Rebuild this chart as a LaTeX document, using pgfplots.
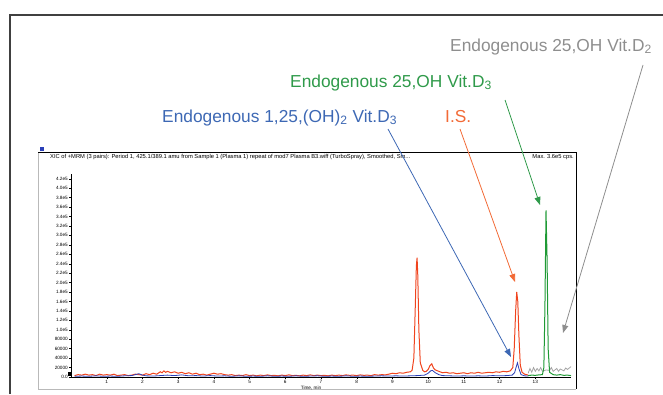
\documentclass[border=0pt]{standalone}
\usepackage{pgfplots}
\pgfplotsset{compat=1.18}
\usepackage{fontspec}
\setmainfont{Liberation Sans}
\usetikzlibrary{arrows.meta}
\definecolor{txtblue}{HTML}{3D68B4}
\definecolor{txtorange}{HTML}{F26A36}
\definecolor{txtgreen}{HTML}{2F9A4A}
\definecolor{txtgray}{HTML}{8E8E8E}
\definecolor{tred}{HTML}{F0441E}
\definecolor{tblue}{HTML}{2A3FB8}
\definecolor{tgreen}{HTML}{1F9A35}
\definecolor{tgray}{HTML}{A4A4A4}
\begin{document}
\begin{tikzpicture}[x=1bp,y=1bp]
\path[use as bounding box] (0,0) rectangle (663,394);
% outer frame
\draw[line width=1.1bp, black!75] (10,0) -- (10,379) -- (663,379);
% inner frame
\draw[gray!55, line width=0.6bp] (38,242) -- (38,5) -- (576,5);
\draw[black, line width=0.9bp] (38,242) -- (576,242) -- (576,5);
\fill[tblue] (40,243) rectangle (44,247);
\node[anchor=base west, inner sep=0, font=\fontsize{5.8}{7}\selectfont] at (50,236) {XIC of +MRM (3 pairs): Period 1, 425.1/389.1 amu from Sample 1 (Plasma 1) repeat of mod7 Plasma B3.wiff (TurboSpray), Smoothed, Sm...};
\node[anchor=base east, inner sep=0, font=\fontsize{5.8}{7}\selectfont] at (574,236) {Max. 3.6e5 cps.};
\begin{axis}[
  at={(71bp,17bp)}, anchor=south west,
  scale only axis, width=500bp, height=203bp,
  xmin=0, xmax=14, ymin=0, ymax=430000,
  axis x line=bottom, axis y line=left,
  axis line style={-, line width=0.6bp, black},
  tick align=outside, major tick length=2bp, minor tick length=1.2bp,
  tick style={line width=0.4bp, black},
  xtick={1,2,3,4,5,6,7,8,9,10,11,12,13}, minor xtick={0.5,1.5,2.5,3.5,4.5,5.5,6.5,7.5,8.5,9.5,10.5,11.5,12.5,13.5},
  ytick={0,20000,40000,60000,80000,100000,120000,140000,160000,180000,200000,220000,240000,260000,280000,300000,320000,340000,360000,380000,400000,420000},
  yticklabels={0.0,20000,40000,60000,80000,1.0e5,1.2e5,1.4e5,1.6e5,1.8e5,2.0e5,2.2e5,2.4e5,2.6e5,2.8e5,3.0e5,3.2e5,3.4e5,3.6e5,3.8e5,4.0e5,4.2e5},
  xticklabels={1,2,3,4,5,6,7,8,9,10,11,12,13},
  scaled y ticks=false,
  xticklabel style={font=\fontsize{4.7}{5}\selectfont, inner sep=1bp},
  yticklabel style={font=\fontsize{4.7}{5}\selectfont, inner sep=1bp},
  xlabel={Time, min}, xlabel style={font=\fontsize{4.7}{5}\selectfont, at={(axis description cs:0.48,0)}, anchor=north, yshift=-9bp, inner sep=0},
  clip=false,
]
\addplot[tred, line width=1bp] coordinates {
(0.1,3000)(0.2,5000)(0.3,4000)(0.4,6000)(0.5,4000)(0.6,5000)(0.7,3000)(0.8,6000)(0.9,4000)(1.0,5000)
(1.1,4000)(1.2,6000)(1.3,3000)(1.4,4000)(1.5,5000)(1.6,3000)(1.7,4000)(1.8,6000)(1.9,5000)(2.0,4000)
(2.1,7000)(2.2,5000)(2.3,8000)(2.4,6000)(2.5,11000)(2.55,9000)(2.6,13000)(2.65,10000)(2.7,12000)(2.8,9000)
(2.9,11000)(3.0,8000)(3.1,10000)(3.2,7000)(3.3,9000)(3.4,6000)(3.5,8000)(3.6,5000)(3.7,6000)(3.8,4000)
(3.9,6000)(4.0,8000)(4.1,6000)(4.2,7000)(4.3,5000)(4.4,4000)(4.5,5000)(4.6,3000)(4.7,4000)(4.8,3000)
(4.9,5000)(5.0,3000)(5.1,4000)(5.2,2500)(5.3,4000)(5.4,3000)(5.5,4500)(5.6,3000)(5.7,3500)(5.8,2500)
(5.9,4000)(6.0,3000)(6.1,4500)(6.2,3000)(6.3,3500)(6.4,2500)(6.5,4000)(6.6,3000)(6.7,4500)(6.8,3000)
(6.9,4000)(7.0,3000)(7.1,3500)(7.2,2500)(7.3,4000)(7.4,3000)(7.5,4000)(7.6,3000)(7.7,4500)(7.8,3500)
(7.9,4000)(8.0,3000)(8.1,4500)(8.2,3500)(8.3,4000)(8.4,3000)(8.5,5000)(8.6,4000)(8.7,5000)(8.8,4500)
(8.9,6000)(9.0,8000)(9.1,7000)(9.2,9000)(9.3,8000)(9.4,10000)(9.5,11000)(9.55,14000)(9.6,40000)(9.64,150000)
(9.67,235000)(9.69,253000)(9.71,215000)(9.74,100000)(9.78,30000)(9.85,14000)(9.9,11000)(9.95,12000)(10.0,16000)(10.05,24000)
(10.1,28000)(10.15,19000)(10.2,15000)(10.3,12000)(10.4,9000)(10.5,10000)(10.6,8000)(10.7,9000)(10.8,7000)(10.9,8000)
(11.0,9000)(11.1,7000)(11.2,9000)(11.3,8000)(11.4,10000)(11.5,8000)(11.6,9000)(11.7,10000)(11.8,9000)(11.9,11000)
(12.0,10000)(12.1,12000)(12.2,11000)(12.3,13000)(12.37,20000)(12.41,60000)(12.45,140000)(12.48,180000)(12.51,160000)(12.54,90000)
(12.58,25000)(12.63,10000)(12.7,6000)(12.8,4000)
};
\addplot[tblue, line width=0.8bp] coordinates {
(0.1,1500)(0.3,2000)(0.5,1500)(0.7,2500)(0.9,1500)(1.1,2000)(1.3,1500)(1.5,2500)(1.7,3000)(1.8,5000)
(1.9,7000)(2.0,4000)(2.1,2500)(2.3,2000)(2.5,3000)(2.7,4000)(2.9,3000)(3.1,4500)(3.3,2500)(3.5,3000)
(3.7,2000)(3.9,3000)(4.1,2000)(4.3,2500)(4.5,1500)(4.7,2500)(4.9,1500)(5.1,2000)(5.3,1500)(5.5,2500)
(5.7,1500)(5.9,2000)(6.1,1500)(6.3,2500)(6.5,1500)(6.7,2000)(6.9,2500)(7.1,1500)(7.3,2000)(7.5,1500)
(7.7,2500)(7.9,1500)(8.1,2000)(8.3,1500)(8.5,2000)(8.7,2500)(8.9,2000)(9.1,2500)(9.3,2000)(9.5,2500)
(9.7,3000)(9.9,4000)(10.0,8000)(10.07,13000)(10.12,14000)(10.2,9000)(10.3,5000)(10.4,3000)(10.6,2500)(10.8,2000)
(11.0,2500)(11.2,2000)(11.4,2500)(11.6,2000)(11.8,3000)(12.0,2500)(12.2,3000)(12.35,4000)(12.42,9000)(12.46,20000)
(12.5,30000)(12.54,18000)(12.6,5000)(12.7,2500)(12.8,2000)
};
\addplot[tgray, line width=0.8bp] coordinates {
(12.8,8000)(12.85,18000)(12.9,10000)(12.95,20000)(13.0,12000)(13.05,18000)(13.1,13000)(13.15,20000)(13.2,12000)(13.3,15000)
(13.4,14000)(13.45,20000)(13.5,12000)(13.6,18000)(13.65,12000)(13.7,17000)(13.8,13000)(13.85,19000)(13.9,16000)(14.0,22000)
};
\addplot[tgreen, line width=1bp] coordinates {
(12.8,3000)(12.9,4000)(13.0,3500)(13.1,4500)(13.2,5000)(13.24,20000)(13.27,150000)(13.3,353000)(13.33,250000)(13.36,60000)
(13.4,10000)(13.5,5000)(13.6,4000)(13.7,5000)(13.8,3500)(13.9,4000)(14.0,3000)
};
\end{axis}
\fill[black] (68,18) rectangle (71,22);
% annotations
\node[anchor=base west, inner sep=0, text=txtgray, font=\fontsize{17.4}{20}\selectfont] at (450,343) {Endogenous 25,OH Vit.D\textsubscript{2}};
\node[anchor=base west, inner sep=0, text=txtgreen, font=\fontsize{17.4}{20}\selectfont] at (290,307) {Endogenous 25,OH Vit.D\textsubscript{3}};
\node[anchor=base west, inner sep=0, text=txtblue, font=\fontsize{17.4}{20}\selectfont] at (162,272) {Endogenous 1,25,(OH)\textsubscript{2} Vit.D\textsubscript{3}};
\node[anchor=base west, inner sep=0, text=txtorange, font=\fontsize{17.4}{20}\selectfont] at (445,272) {I.S.};
\draw[txtblue, line width=0.8bp, -{Triangle[length=8bp,width=6bp]}] (388,265) -- (511,37);
\draw[txtorange, line width=0.8bp, -{Triangle[length=8bp,width=6bp]}] (460,265) -- (515,112);
\draw[txtgreen, line width=0.8bp, -{Triangle[length=8bp,width=6bp]}] (505,294) -- (540,189);
\draw[txtgray, line width=0.8bp, -{Triangle[length=8bp,width=6bp]}] (643,329) -- (563,61);
\end{tikzpicture}
\end{document}
